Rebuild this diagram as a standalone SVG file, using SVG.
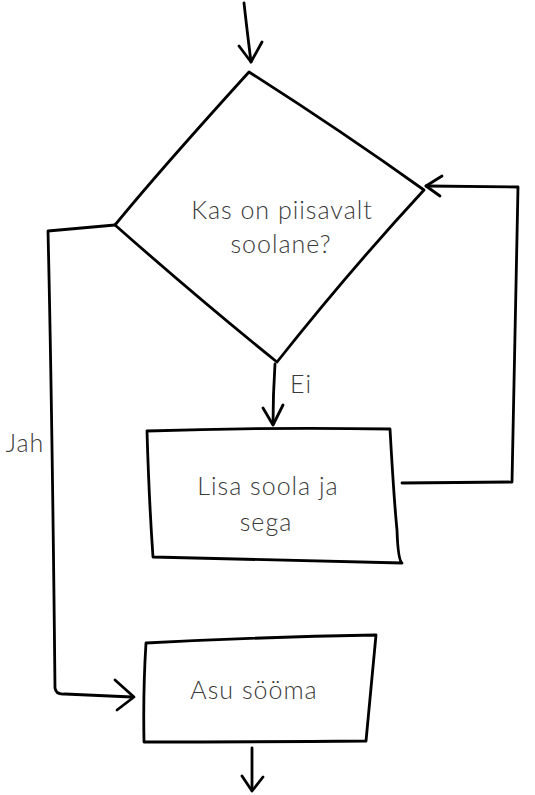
<svg xmlns="http://www.w3.org/2000/svg" width="535" height="795" viewBox="0 0 535 795">
<style>
.s{fill:none;stroke:#000;stroke-width:2.8;stroke-linecap:round;stroke-linejoin:round}
.n{fill:#fff;stroke:#000;stroke-width:2.8;stroke-linecap:round;stroke-linejoin:round}
.t{font-family:"Lato","Open Sans",sans-serif;font-weight:300;font-size:25px;letter-spacing:1px;fill:#3a3a3a;text-anchor:middle}
</style>
<rect width="535" height="795" fill="#fff"/>
<g id="connectors">
<path class="s" d="M244 3 Q247 30 251 62"/>
<path class="s" d="M239 46 L251 62 L262 42"/>
<path class="s" d="M115 225 Q80 228 48 231 Q52 400 55 688 Q56 695 65 694 L132 697"/>
<path class="s" d="M115 680 L134 697 L117 710"/>
<path class="s" d="M275 364 Q273 395 273 424"/>
<path class="s" d="M263 408 L273 425 L283 405"/>
<path class="s" d="M402 483 L512 482 Q515 330 518 187 L426 186"/>
<path class="s" d="M442 176 L426 186 L440 196"/>
<path class="s" d="M252 748 L252 790"/>
<path class="s" d="M242 776 L252 791 L263 777"/>
</g>
<g id="decision">
<path class="n" d="M249 72 Q160 170 115 225 Q200 300 277 362 Q350 270 424 190 Q340 130 249 72 Z"/>
<text class="t" x="282" y="219">Kas on piisavalt</text>
<text class="t" x="281" y="253">soolane?</text>
</g>
<g id="add-salt">
<path class="n" d="M147 431 Q270 427 390 429 Q394 500 397 530 Q398 560 402 563 Q290 560 153 557 Q149 500 147 431 Z"/>
<text class="t" x="268" y="495">Lisa soola ja</text>
<text class="t" x="266" y="531">sega</text>
</g>
<g id="eat">
<path class="n" d="M146 643 Q260 637 376 635 Q370 700 366 741 Q260 742 144 742 Q143 690 146 643 Z"/>
<text class="t" x="254" y="699">Asu sööma</text>
</g>
<g id="labels">
<text class="t" x="301" y="393">Ei</text>
<text class="t" x="25" y="452">Jah</text>
</g>
</svg>
